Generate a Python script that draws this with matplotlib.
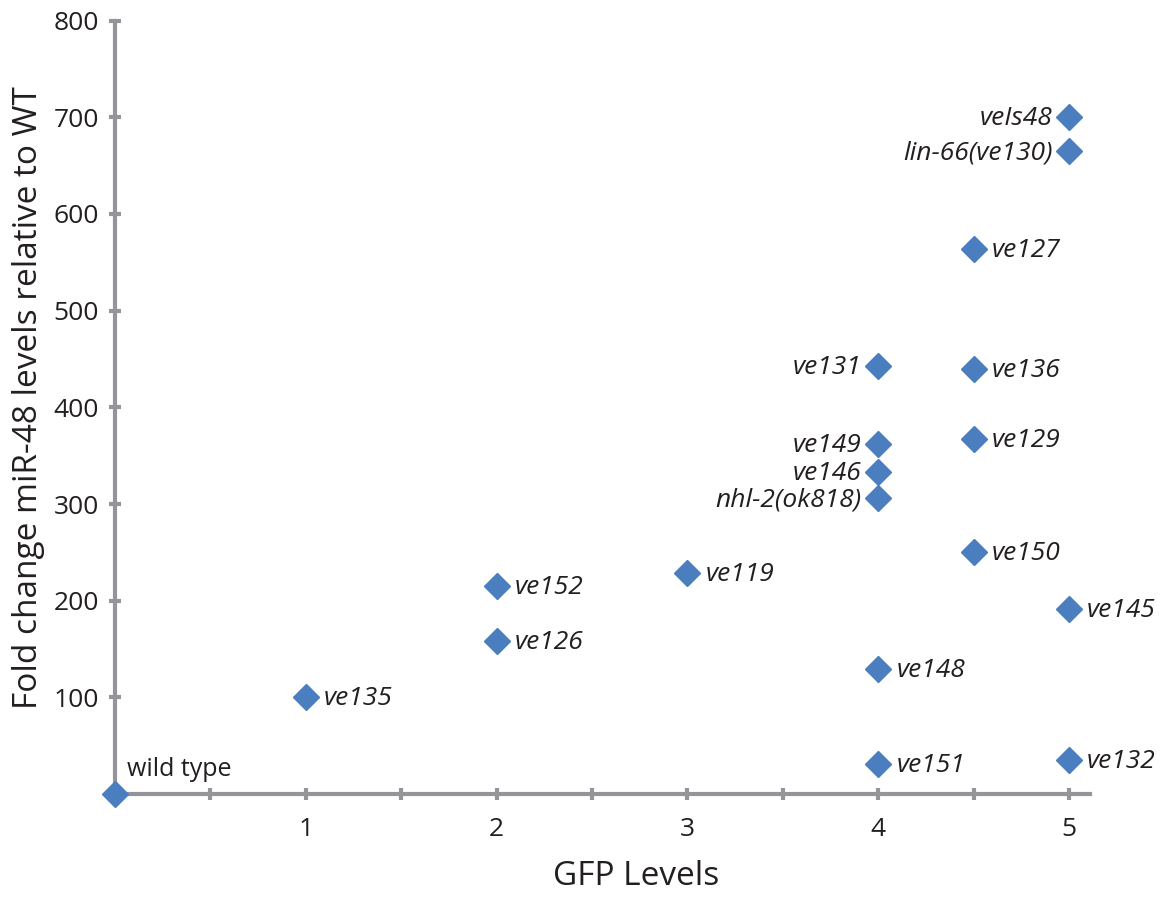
import matplotlib.pyplot as plt
from matplotlib.ticker import MultipleLocator

plt.rcParams['font.family'] = ['Open Sans', 'DejaVu Sans']

# GFP level (x) and fold change of miR-48 relative to WT (y)
strains = ["wild type", "ve135", "ve126", "ve152", "ve119",
           "ve131", "ve149", "ve146", "nhl-2(ok818)", "ve148", "ve151",
           "ve127", "ve136", "ve129", "ve150",
           "veIs48", "lin-66(ve130)", "ve145", "ve132"]
gfp = [0, 1, 2, 2, 3,
       4, 4, 4, 4, 4, 4,
       4.5, 4.5, 4.5, 4.5,
       5, 5, 5, 5]
fold = [0, 100, 158, 215, 229,
        443, 362, 333, 306, 129, 31,
        564, 440, 367, 250,
        700, 665, 191, 35]
left_side = {"ve131", "ve149", "ve146", "nhl-2(ok818)", "veIs48", "lin-66(ve130)"}

grey = "#939598"
blue = "#4a7ebf"
ink = "#231f20"

fig = plt.figure(figsize=(11.71, 8.97), dpi=100)
ax = fig.add_axes([0.0982, 0.1148, 0.8326, 0.8622])

ax.plot(gfp, fold, linestyle="none", marker="D", markersize=13.5,
        color=blue, clip_on=False, zorder=5)

for name, x, y in zip(strains, gfp, fold):
    if name == "wild type":
        ax.annotate(name, (x, y), xytext=(9, 9), textcoords="offset points",
                    fontsize=18, ha="left", va="bottom", color=ink)
    elif name in left_side:
        ax.annotate(name, (x, y), xytext=(-12, -1), textcoords="offset points",
                    fontsize=19, style="italic", ha="right", va="center",
                    color=ink)
    else:
        ax.annotate(name, (x, y), xytext=(13, -1), textcoords="offset points",
                    fontsize=19, style="italic", ha="left", va="center",
                    color=ink)

ax.set_xlim(0, 5.11)
ax.set_ylim(0, 800)
ax.xaxis.set_minor_locator(MultipleLocator(0.5))
ax.set_xticks([1, 2, 3, 4, 5])
ax.set_yticks([100, 200, 300, 400, 500, 600, 700, 800])

for side in ["top", "right"]:
    ax.spines[side].set_visible(False)
for side in ["left", "bottom"]:
    ax.spines[side].set_color(grey)
    ax.spines[side].set_linewidth(3)

ax.tick_params(which="both", direction="inout", color=grey, width=3,
               length=9, labelsize=19, labelcolor=ink)
ax.tick_params(axis="x", pad=12)
ax.tick_params(axis="y", pad=7)

ax.set_xlabel("GFP Levels", fontsize=24, color=ink)
ax.set_ylabel("Fold change miR-48 levels relative to WT", fontsize=24,
              labelpad=6, color=ink)
ax.xaxis.set_label_coords(0.535, -0.085)
ax.yaxis.label.set_y(0.513)

fig.savefig("out.png", dpi=100)
